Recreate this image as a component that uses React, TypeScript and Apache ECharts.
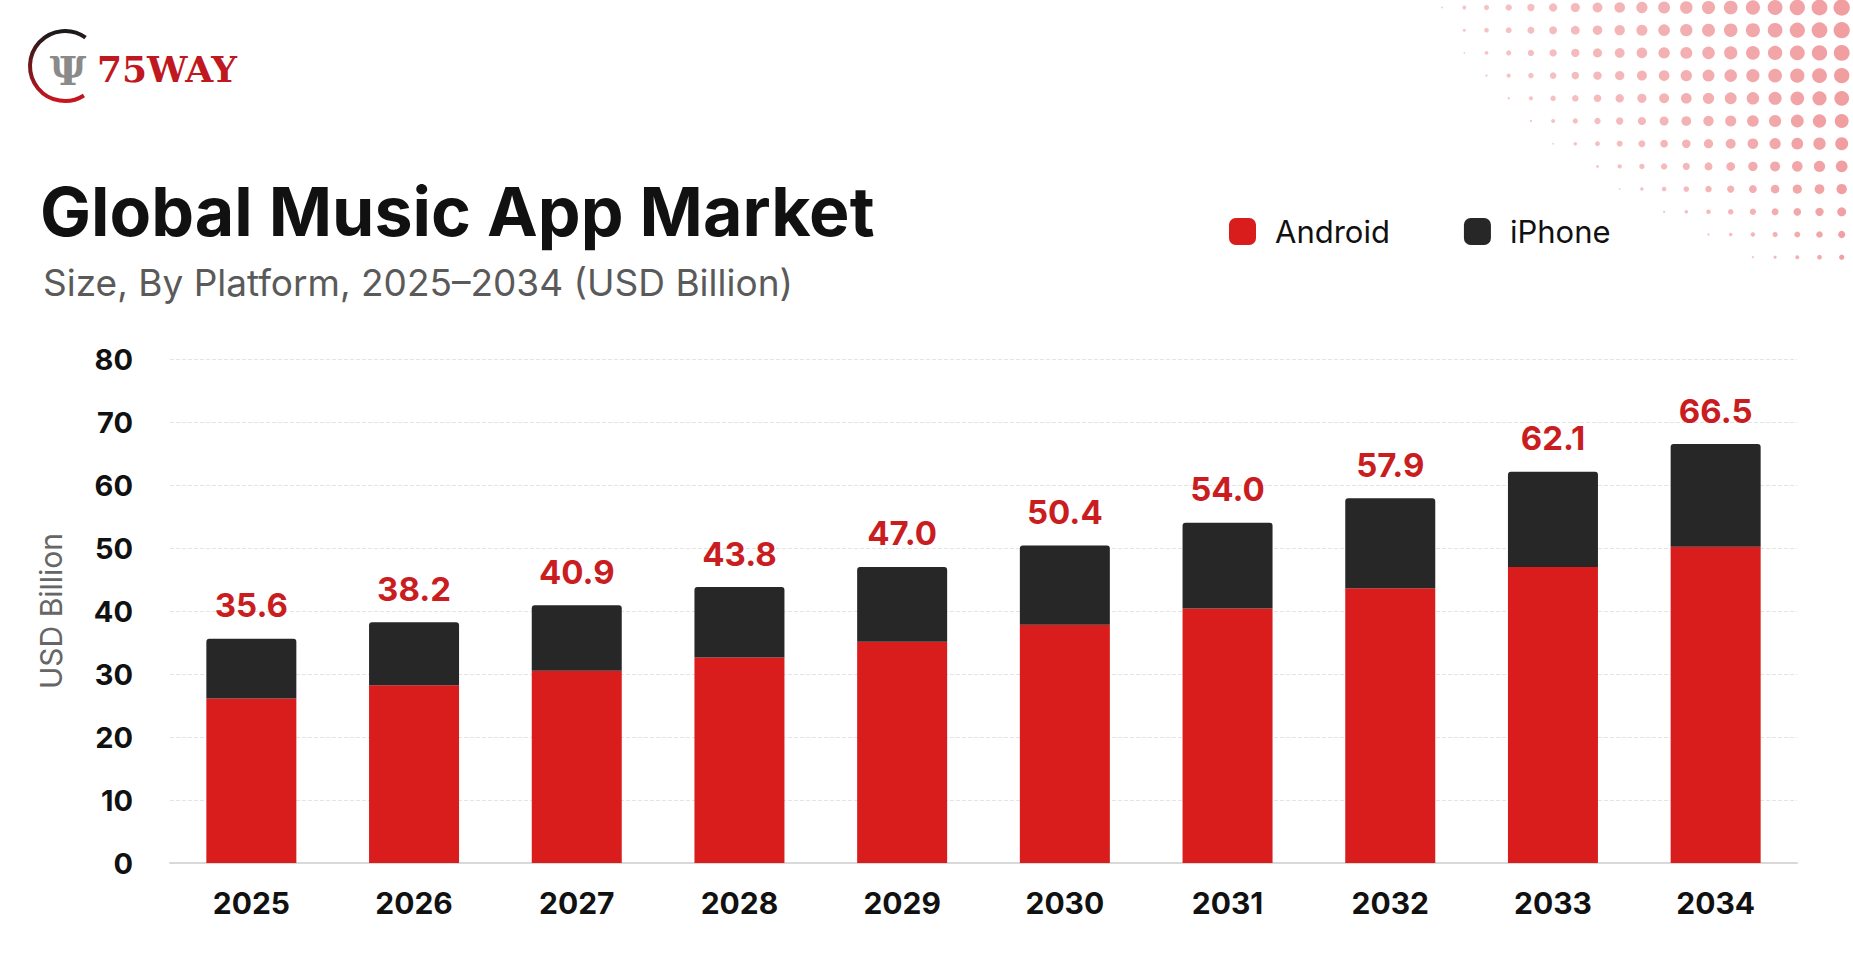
import React, { useEffect, useRef } from "react";
import * as echarts from "echarts";

const categories = ["2025", "2026", "2027", "2028", "2029", "2030", "2031", "2032", "2033", "2034"];
const android = [26.1, 28.2, 30.5, 32.6, 35.1, 37.8, 40.4, 43.6, 47.0, 50.2];
const iphone = [9.5, 10.0, 10.4, 11.2, 11.9, 12.6, 13.6, 14.3, 15.1, 16.3];
const seriesNames = ["Android", "iPhone"];
const titleText = "Global Music App Market";
const subtitleText = "Size, By Platform, 2025–2034 (USD Billion)";
const yAxisName = "USD Billion";
const brandText = "75WAY";

const FONT = "Inter, 'Noto Sans', sans-serif";

// decorative halftone dot pattern (top-right corner)
function buildDots() {
  const dots: any[] = [];
  for (let i = 0; i < 12; i++) {
    for (let j = 0; j < 20; j++) {
      const x = 1841.7 - 22.2 * j;
      const y = 7.5 + 22.7 * i;
      const dx = 1853 - x;
      const D = 420 - 0.3 * y - 0.0034 * y * y;
      const u = dx / D;
      if (u >= 1) continue;
      const h = 1 - 0.00001 * y * y;
      const r = Math.max(0.7, 8.3 * h * Math.pow(1 - u, 0.55));
      dots.push({
        type: "circle",
        silent: true,
        shape: { cx: x, cy: y, r },
        style: { fill: "#ea7377", opacity: 0.4 + 0.3 * (1 - u) },
        z: 0,
      });
    }
  }
  return dots;
}

export default function App() {
  const ref = useRef<HTMLDivElement>(null);

  useEffect(() => {
    document.body.style.margin = "0";
    if (!ref.current) return;
    const chart = echarts.init(ref.current, null, { renderer: "svg" });

    const option: any = {
      animation: false,
      backgroundColor: "#ffffff",
      textStyle: { fontFamily: FONT },
      title: [
        {
          text: titleText,
          left: 35,
          top: 166,
          textStyle: { fontSize: 68, fontWeight: 700, color: "#111111", fontFamily: FONT, lineHeight: 80 },
        },
        {
          text: subtitleText,
          left: 38,
          top: 255,
          textStyle: { fontSize: 37, fontWeight: 400, color: "#5a5a5a", fontFamily: FONT, lineHeight: 44 },
        },
      ],
      legend: {
        data: seriesNames,
        left: 1224,
        top: 211,
        itemWidth: 27,
        itemHeight: 27,
        itemGap: 74,
        icon: "roundRect",
        textStyle: { fontSize: 31, color: "#111111", fontFamily: FONT, padding: [0, 0, 0, 14] },
      },
      grid: { left: 170, right: 56, top: 359, bottom: 106 },
      xAxis: {
        type: "category",
        data: categories,
        axisTick: { show: false },
        axisLine: { lineStyle: { color: "#d9d9d9", width: 2 } },
        axisLabel: { fontSize: 30, fontWeight: 700, color: "#111111", margin: 25, fontFamily: FONT },
      },
      yAxis: {
        type: "value",
        min: 0,
        max: 80,
        interval: 10,
        name: yAxisName,
        nameLocation: "middle",
        nameGap: 104,
        nameTextStyle: { fontSize: 30, color: "#666666", fontFamily: FONT },
        axisLine: { show: false },
        axisTick: { show: false },
        axisLabel: { fontSize: 29, fontWeight: 700, color: "#111111", margin: 37, fontFamily: FONT },
        splitLine: { lineStyle: { color: "#e4e4e4", type: "dashed", width: 1 } },
      },
      series: [
        {
          name: seriesNames[0],
          type: "bar",
          stack: "total",
          barWidth: 90,
          data: android,
          itemStyle: { color: "#d91c1c" },
        },
        {
          name: seriesNames[1],
          type: "bar",
          stack: "total",
          barWidth: 90,
          data: iphone,
          itemStyle: { color: "#272727", borderRadius: [3, 3, 0, 0] },
          label: {
            show: true,
            position: "top",
            distance: 17,
            fontSize: 33,
            fontWeight: 700,
            color: "#c91d1f",
            fontFamily: FONT,
            formatter: (p: any) => (android[p.dataIndex] + iphone[p.dataIndex]).toFixed(1),
          },
        },
      ],
      graphic: [
        ...buildDots(),
        {
          type: "arc",
          silent: true,
          shape: { cx: 65, cy: 66, r: 35, startAngle: 1.0, endAngle: 5.34, clockwise: true },
          style: {
            fill: "none",
            lineWidth: 4,
            stroke: new echarts.graphic.LinearGradient(0, 0, 0, 1, [
              { offset: 0, color: "#1a1a1a" },
              { offset: 1, color: "#c8161d" },
            ]),
          },
        },
        {
          type: "text",
          silent: true,
          x: 68,
          y: 70,
          style: {
            text: "Ψ",
            font: "bold 40px 'DejaVu Serif'",
            fill: "#8a8a8a",
            align: "center",
            verticalAlign: "middle",
          },
        },
        {
          type: "text",
          silent: true,
          x: 97,
          y: 69,
          style: {
            text: brandText,
            font: "bold 36px 'DejaVu Serif'",
            fill: "#bf1820",
            align: "left",
            verticalAlign: "middle",
          },
        },
      ],
    };

    chart.setOption(option);
    return () => chart.dispose();
  }, []);

  return <div ref={ref} style={{ width: 1853, height: 969, background: "#ffffff" }} />;
}
